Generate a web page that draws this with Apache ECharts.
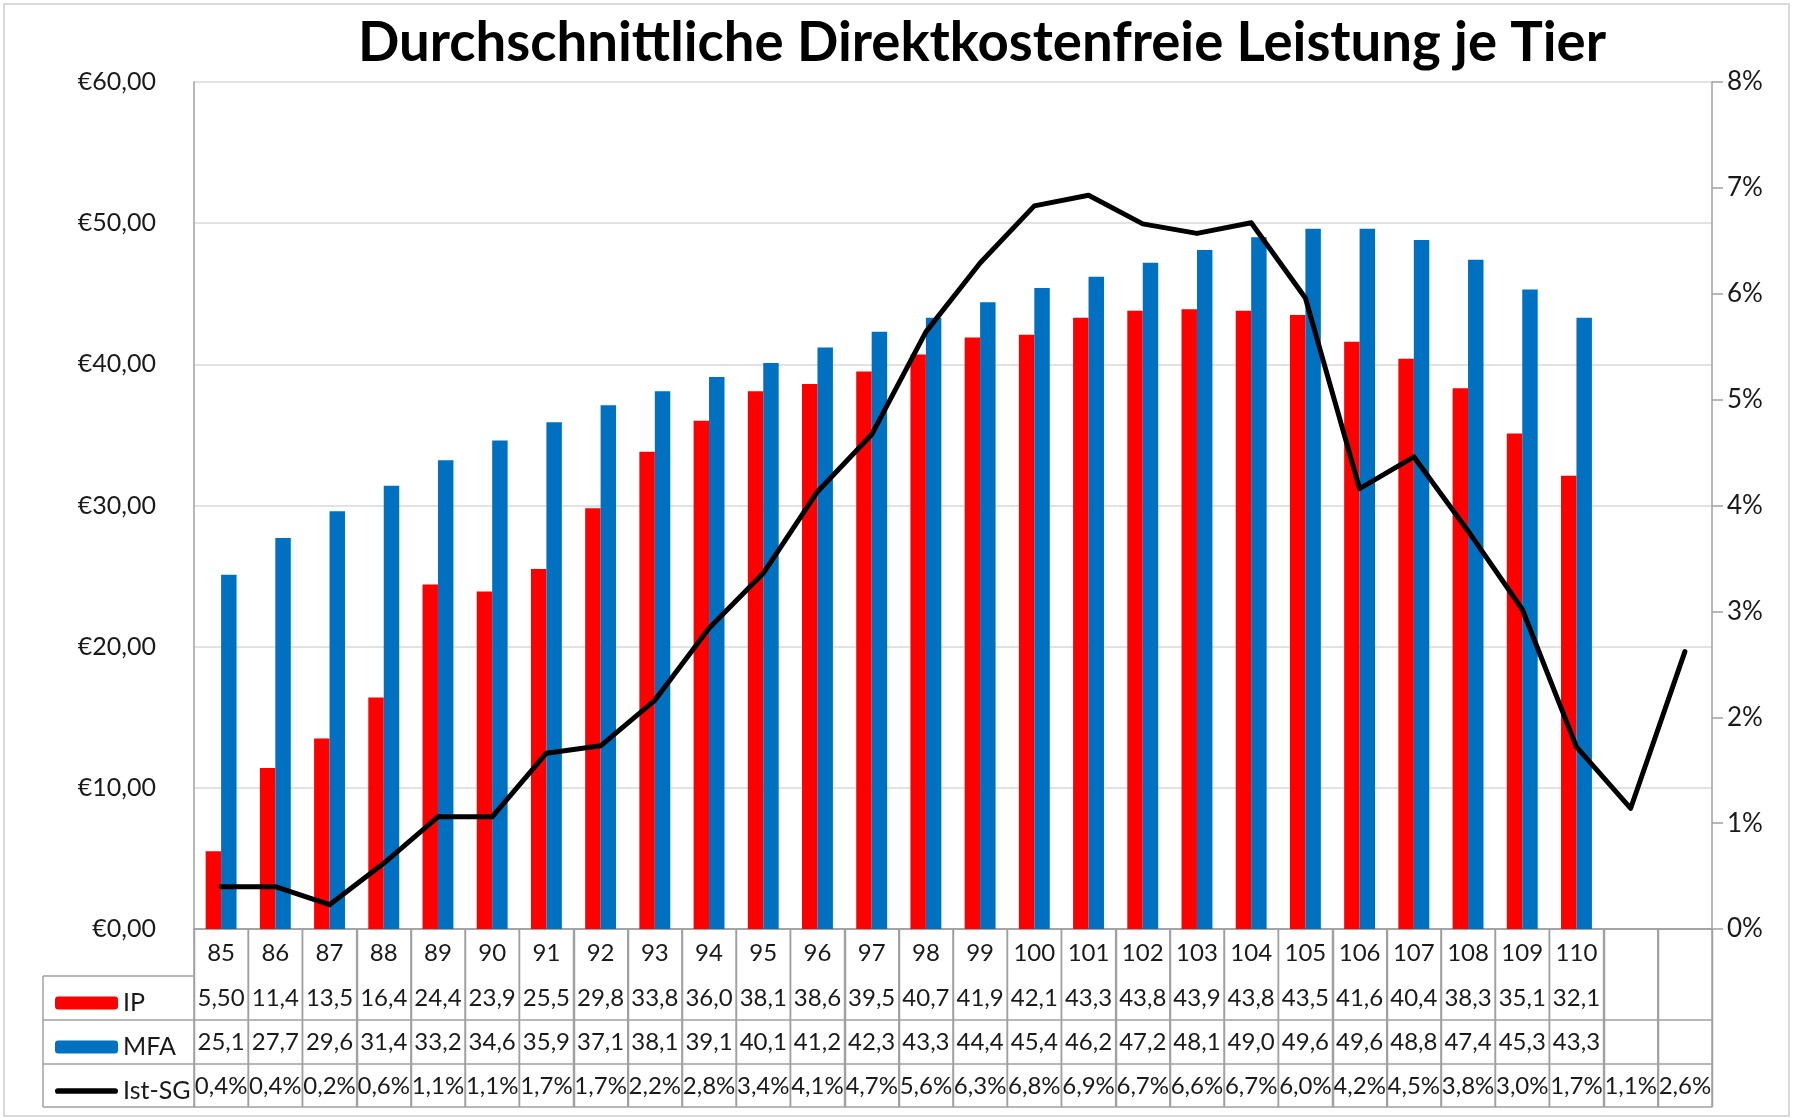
<!DOCTYPE html>
<html>
<head>
<meta charset="utf-8">
<script src="https://cdn.jsdelivr.net/npm/echarts@6/dist/echarts.min.js"></script>
<style>
html,body{margin:0;padding:0;background:#fff;}
#chart{width:1794px;height:1118px;}
</style>
</head>
<body>
<div id="chart"></div>
<script>
// ---- data ----
var categories = ['85','86','87','88','89','90','91','92','93','94','95','96','97','98','99','100','101','102','103','104','105','106','107','108','109','110','',''];
var ipValues  = [5.50,11.4,13.5,16.4,24.4,23.9,25.5,29.8,33.8,36.0,38.1,38.6,39.5,40.7,41.9,42.1,43.3,43.8,43.9,43.8,43.5,41.6,40.4,38.3,35.1,32.1,null,null];
var mfaValues = [25.1,27.7,29.6,31.4,33.2,34.6,35.9,37.1,38.1,39.1,40.1,41.2,42.3,43.3,44.4,45.4,46.2,47.2,48.1,49.0,49.6,49.6,48.8,47.4,45.3,43.3,null,null];
var sgValues  = [0.40,0.40,0.23,0.62,1.06,1.06,1.66,1.73,2.16,2.84,3.36,4.13,4.67,5.64,6.29,6.83,6.93,6.66,6.57,6.67,5.96,4.16,4.46,3.76,3.02,1.72,1.14,2.62];
var leftTicks = [0,10,20,30,40,50,60];
var rightTicks = [0,1,2,3,4,5,6,7,8];
var seriesNames = ['IP','MFA','Ist-SG'];
var titleText = 'Durchschnittliche Direktkostenfreie Leistung je Tier';

function deNum(v, d){ return v.toFixed(d).replace('.', ','); }
var ipLabels  = ipValues.map(function(v){ return v == null ? '' : (v < 10 ? deNum(v,2) : deNum(v,1)); });
var mfaLabels = mfaValues.map(function(v){ return v == null ? '' : (v < 10 ? deNum(v,2) : deNum(v,1)); });
var sgLabels  = sgValues.map(function(v){ return v == null ? '' : deNum(v,1) + '%'; });

// ---- layout ----
var FONT = 'Lato';
var TXT = '#1a1a1a';
var LINEC = '#A0A0A0';
var GRID_L = 194, GRID_R = 1712, GRID_T = 82, GRID_B = 929;
var rows = [47, 44, 44, 43]; // category row, IP, MFA, SG
var TABLE_H = rows[0] + rows[1] + rows[2] + rows[3];
var FS = 26, TFS = 24;

function tableAxis(offset, height, labels) {
  return {
    type: 'category',
    data: categories,
    position: 'bottom',
    offset: offset,
    gridIndex: 0,
    axisLine: { show: true, lineStyle: { color: LINEC, width: 1.5 } },
    axisTick: { show: false },
    axisLabel: {
      show: !!labels, interval: 0, hideOverlap: false,
      margin: Math.round((height - 30) / 2),
      fontFamily: FONT, fontSize: TFS, lineHeight: 30, color: TXT,
      formatter: function (v, i) { return labels ? labels[i] : ''; }
    },
    splitLine: { show: false }
  };
}

var offs = [0, rows[0], rows[0] + rows[1], rows[0] + rows[1] + rows[2], TABLE_H];

var chart = echarts.init(document.getElementById('chart'), null, { renderer: 'canvas' });

var tableTop = GRID_B + rows[0];
var tableBottom = GRID_B + TABLE_H;
var leftX = 43;
function lineEl(x1, y1, x2, y2) {
  return { type: 'line', z: 100, shape: { x1: x1, y1: y1, x2: x2, y2: y2 }, style: { stroke: LINEC, lineWidth: 1.5 }, silent: true };
}
var graphic = [
  { type: 'rect', shape: { x: 4, y: 4, width: 1785, height: 1112 }, style: { fill: 'none', stroke: '#D9D9D9', lineWidth: 2 }, silent: true, z: -10 }
];
var yy = tableTop;
for (var r = 1; r <= 4; r++) {
  graphic.push(lineEl(leftX, yy, GRID_L, yy));
  if (r < 4) yy += rows[r];
}
graphic.push(lineEl(leftX, tableTop, leftX, tableBottom));
// table column borders (layout of the data table, one per category boundary)
var bandW = (GRID_R - GRID_L) / categories.length;
for (var k = 0; k <= categories.length; k++) {
  var bx = Math.round(GRID_L + k * bandW) + 0.5;
  graphic.push(lineEl(bx, GRID_B, bx, tableBottom));
}

// table borders also drawn through the category scale by a helper series
function tableGridItem(params, api) {
  var i = api.value(0);
  var p = api.coord([i, 0]);
  var w = api.size([1, 0])[0];
  var xs = [p[0] - w / 2];
  if (i === categories.length - 1) xs.push(p[0] + w / 2);
  return {
    type: 'group',
    children: xs.map(function (x) {
      return { type: 'line', shape: { x1: x, y1: GRID_B, x2: x, y2: tableBottom },
        style: { stroke: LINEC, lineWidth: 1.5 } };
    })
  };
}

var option = {
  animation: false,
  backgroundColor: '#fff',
  textStyle: { fontFamily: FONT },
  title: {
    text: titleText,
    left: 977, top: 11, textAlign: 'center',
    textStyle: { fontFamily: FONT, fontWeight: 'bold', fontSize: 54.5, color: '#000' }
  },
  legend: {
    orient: 'vertical',
    left: 50, top: tableTop + 7,
    itemWidth: 63, itemHeight: 13, itemGap: 14,
    data: [
      { name: seriesNames[0] },
      { name: seriesNames[1] },
      { name: seriesNames[2], icon: 'path://M3,0L63,0A3,3 0 0 1 63,6L3,6A3,3 0 0 1 3,0Z' }
    ],
    textStyle: { fontFamily: FONT, fontSize: 25, lineHeight: 30, color: TXT },
    selectedMode: false
  },
  grid: { left: GRID_L, right: 1794 - GRID_R, top: GRID_T, bottom: 1118 - GRID_B, containLabel: false },
  xAxis: [
    tableAxis(offs[0], rows[0], categories),
    tableAxis(offs[1], rows[1], ipLabels),
    tableAxis(offs[2], rows[2], mfaLabels),
    tableAxis(offs[3], rows[3], sgLabels),
    tableAxis(offs[4], 0, null)
  ],
  yAxis: [
    {
      type: 'value', min: leftTicks[0], max: leftTicks[leftTicks.length - 1], interval: 10,
      position: 'left',
      axisLine: { show: true, lineStyle: { color: LINEC, width: 1.5 } },
      axisTick: { show: false },
      axisLabel: { fontFamily: FONT, fontSize: 25, color: TXT, margin: 38,
        formatter: function (v) { return '€' + deNum(v, 2); } },
      splitLine: { show: true, lineStyle: { color: '#D9D9D9', width: 1.5 } }
    },
    {
      type: 'value', min: rightTicks[0], max: rightTicks[rightTicks.length - 1], interval: 1,
      position: 'right',
      axisLine: { show: true, lineStyle: { color: LINEC, width: 1.5 } },
      axisTick: { show: true, length: 11, lineStyle: { color: LINEC, width: 1.5 } },
      axisLabel: { fontFamily: FONT, fontSize: FS, color: TXT, margin: 15,
        formatter: function (v) { return v + '%'; } },
      splitLine: { show: false }
    }
  ],
  series: [
    { name: seriesNames[0], type: 'bar', data: ipValues, xAxisIndex: 0, yAxisIndex: 0,
      barWidth: '28.5%', barGap: '0%', itemStyle: { color: '#FF0000' } },
    { name: seriesNames[1], type: 'bar', data: mfaValues, xAxisIndex: 0, yAxisIndex: 0,
      barWidth: '28.5%', barGap: '0%', itemStyle: { color: '#0070C0' } },
    { name: seriesNames[2], type: 'line', data: sgValues, xAxisIndex: 0, yAxisIndex: 1,
      symbol: 'none', z: 5,
      lineStyle: { color: '#000', width: 5, cap: 'round', join: 'round' },
      itemStyle: { color: '#000' } },
    { name: 'tableGrid', type: 'custom', xAxisIndex: 0, yAxisIndex: 0,
      silent: true, clip: false, z: 60,
      data: categories.map(function (c, i) { return [i, 0]; }),
      encode: { x: 0, y: 1 },
      renderItem: tableGridItem }
  ],
  graphic: graphic
};
chart.setOption(option);
</script>
</body>
</html>
